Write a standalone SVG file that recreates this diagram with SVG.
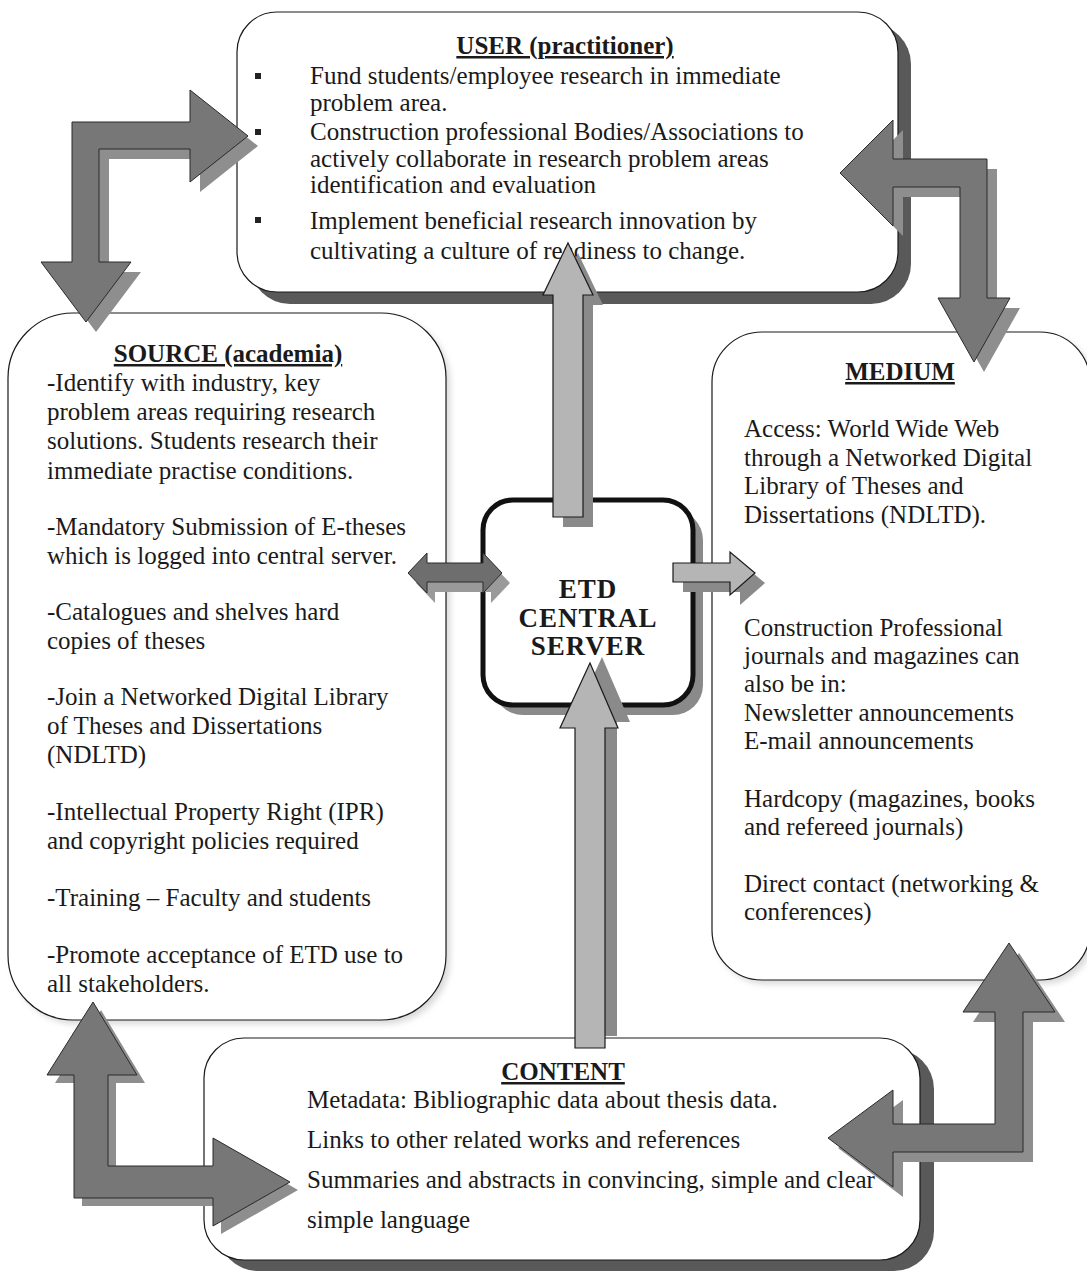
<svg xmlns="http://www.w3.org/2000/svg" width="1087" height="1272" viewBox="0 0 1087 1272">
  <defs>
    <style>
      .box { fill: #ffffff; stroke: #1a1a1a; stroke-width: 1.2; }
      .boxshadow { fill: #595959; }
      .softshadow { fill: #d8d8d8; filter: url(#soft); }
      .t { font-family: "Liberation Serif", "Times New Roman", serif; font-size: 25px; fill: #1a1a1a; }
      .title { font-family: "Liberation Serif", "Times New Roman", serif; font-size: 25px; font-weight: bold; fill: #1a1a1a; text-decoration: underline; }
      .srv { font-family: "Liberation Serif", "Times New Roman", serif; font-size: 27px; font-weight: bold; fill: #1a1a1a; letter-spacing: 1px; }
      .bent { fill: #777777; stroke: #2a2a2a; stroke-width: 1; }
      .bentshadow { fill: #8e8e8e; }
      .light { fill: #b5b5b5; stroke: #1a1a1a; stroke-width: 1.2; }
      .lightshadow { fill: #8a8a8a; }
      .dark { fill: #6e6e6e; stroke: #2a2a2a; stroke-width: 1; }
      .darkshadow { fill: #9a9a9a; }
    </style>
    <filter id="soft" x="-5%" y="-5%" width="110%" height="110%">
      <feGaussianBlur stdDeviation="3"/>
    </filter>
  </defs>
  <rect width="1087" height="1272" fill="#ffffff"/>

  <!-- USER box -->
  <g id="user">
    <rect class="boxshadow" x="250" y="24" width="661" height="280" rx="40"/>
    <rect class="box" x="237" y="12" width="661" height="280" rx="40"/>
    <text class="title" x="565" y="54" text-anchor="middle">USER (practitioner)</text>
    <rect x="255" y="73" width="6" height="6" fill="#222"/>
    <text class="t" x="310" y="84">Fund students/employee research in immediate</text>
    <text class="t" x="310" y="111">problem area.</text>
    <rect x="255" y="129" width="6" height="6" fill="#222"/>
    <text class="t" x="310" y="140">Construction professional Bodies/Associations to</text>
    <text class="t" x="310" y="167">actively collaborate in research problem areas</text>
    <text class="t" x="310" y="193">identification and evaluation</text>
    <rect x="255" y="217" width="6" height="6" fill="#222"/>
    <text class="t" x="310" y="229">Implement beneficial research innovation by</text>
    <text class="t" x="310" y="259">cultivating a culture of readiness to change.</text>
  </g>

  <!-- SOURCE box -->
  <g id="source">
    <rect class="softshadow" x="12" y="317" width="438" height="707" rx="65"/>
    <rect class="box" x="8" y="313" width="438" height="707" rx="65"/>
    <text class="title" x="228" y="362" text-anchor="middle">SOURCE (academia)</text>
    <text class="t" x="47" y="391">-Identify with industry, key</text>
    <text class="t" x="47" y="420">problem areas requiring research</text>
    <text class="t" x="47" y="449">solutions. Students research their</text>
    <text class="t" x="47" y="479">immediate practise conditions.</text>
    <text class="t" x="47" y="535">-Mandatory Submission of E-theses</text>
    <text class="t" x="47" y="564">which is logged into central server.</text>
    <text class="t" x="47" y="620">-Catalogues and shelves hard</text>
    <text class="t" x="47" y="649">copies of theses</text>
    <text class="t" x="47" y="705">-Join a Networked Digital Library</text>
    <text class="t" x="47" y="734">of Theses and Dissertations</text>
    <text class="t" x="47" y="763">(NDLTD)</text>
    <text class="t" x="47" y="820">-Intellectual Property Right (IPR)</text>
    <text class="t" x="47" y="849">and copyright policies required</text>
    <text class="t" x="47" y="906">-Training – Faculty and students</text>
    <text class="t" x="47" y="963">-Promote acceptance of ETD use to</text>
    <text class="t" x="47" y="992">all stakeholders.</text>
  </g>

  <!-- MEDIUM box -->
  <g id="medium">
    <rect class="softshadow" x="716" y="336" width="378" height="648" rx="50"/>
    <rect class="box" x="712" y="332" width="378" height="648" rx="50"/>
    <text class="title" x="900" y="380" text-anchor="middle">MEDIUM</text>
    <text class="t" x="744" y="437">Access: World Wide Web</text>
    <text class="t" x="744" y="466">through a Networked Digital</text>
    <text class="t" x="744" y="494">Library of Theses and</text>
    <text class="t" x="744" y="523">Dissertations (NDLTD).</text>
    <text class="t" x="744" y="636">Construction Professional</text>
    <text class="t" x="744" y="664">journals and magazines can</text>
    <text class="t" x="744" y="692">also be in:</text>
    <text class="t" x="744" y="721">Newsletter announcements</text>
    <text class="t" x="744" y="749">E-mail announcements</text>
    <text class="t" x="744" y="807">Hardcopy (magazines, books</text>
    <text class="t" x="744" y="835">and refereed journals)</text>
    <text class="t" x="744" y="892">Direct contact (networking &amp;</text>
    <text class="t" x="744" y="920">conferences)</text>
  </g>

  <!-- CONTENT box -->
  <g id="content">
    <rect class="boxshadow" x="218" y="1049" width="716" height="222" rx="40"/>
    <rect class="box" x="204" y="1038" width="716" height="222" rx="40"/>
    <text class="title" x="563" y="1080" text-anchor="middle">CONTENT</text>
    <text class="t" x="307" y="1108">Metadata: Bibliographic data about thesis data.</text>
    <text class="t" x="307" y="1148">Links to other related works and references</text>
    <text class="t" x="307" y="1188">Summaries and abstracts in convincing, simple and clear</text>
    <text class="t" x="307" y="1228">simple language</text>
  </g>

  <!-- ETD central server -->
  <g id="server">
    <rect x="493" y="510" width="210" height="205" rx="30" fill="#8a8a8a"/>
    <rect x="483" y="500" width="210" height="205" rx="30" fill="#ffffff" stroke="#111" stroke-width="5"/>
    <text class="srv" x="588" y="598" text-anchor="middle">ETD</text>
    <text class="srv" x="588" y="627" text-anchor="middle">CENTRAL</text>
    <text class="srv" x="588" y="655" text-anchor="middle">SERVER</text>
  </g>

  <!-- connectors -->
  <g id="connectors">
    <!-- user <-> source (top left) -->
    <polygon class="bentshadow" transform="translate(10,10)" points="72,122 190,122 190,90 248,136 190,182 190,149 99,149 99,262 131,262 86,322 41,262 72,262"/>
    <polygon class="bent" points="72,122 190,122 190,90 248,136 190,182 190,149 99,149 99,262 131,262 86,322 41,262 72,262"/>

    <!-- user <-> medium (top right) -->
    <polygon class="bentshadow" transform="translate(10,10)" points="987,159 987,298 1010,298 974,362 938,298 960,298 960,187 893,187 893,226 840,173 893,120 893,159"/>
    <polygon class="bent" points="987,159 987,298 1010,298 974,362 938,298 960,298 960,187 893,187 893,226 840,173 893,120 893,159"/>

    <!-- source <-> content (bottom left) -->
    <polygon class="bentshadow" transform="translate(8,8)" points="74,1198 74,1075 47,1075 93,1002 137,1075 108,1075 108,1166 213,1166 213,1138 290,1182 213,1226 213,1198"/>
    <polygon class="bent" points="74,1198 74,1075 47,1075 93,1002 137,1075 108,1075 108,1166 213,1166 213,1138 290,1182 213,1226 213,1198"/>

    <!-- medium <-> content (bottom right) -->
    <polygon class="bentshadow" transform="translate(10,10)" points="1023,1152 1023,1012 1055,1012 1009,943 963,1012 995,1012 995,1124 893,1124 893,1090 828,1138 893,1187 893,1152"/>
    <polygon class="bent" points="1023,1152 1023,1012 1055,1012 1009,943 963,1012 995,1012 995,1124 893,1124 893,1090 828,1138 893,1187 893,1152"/>

    <!-- server -> user -->
    <polygon class="lightshadow" transform="translate(10,10)" points="553,517 553,295 543,295 568,243 593,295 583,295 583,517"/>
    <polygon class="light" points="553,517 553,295 543,295 568,243 593,295 583,295 583,517"/>

    <!-- content -> server -->
    <polygon class="lightshadow" points="587,1036 587,722 572,722 602,657 630,722 617,722 617,1036"/>
    <polygon class="light" points="575,1048 575,728 560,728 590,663 618,728 605,728 605,1048"/>

    <!-- source <-> server -->
    <polygon class="darkshadow" transform="translate(8,10)" points="408,573 427,553 427,563 483,563 483,553 502,573 483,593 483,582 427,582 427,593"/>
    <polygon class="dark" points="408,573 427,553 427,563 483,563 483,553 502,573 483,593 483,582 427,582 427,593"/>

    <!-- server -> medium -->
    <polygon class="lightshadow" transform="translate(10,10)" points="673,563 730,563 730,552 755,573 730,595 730,582 673,582"/>
    <polygon class="light" points="673,563 730,563 730,552 755,573 730,595 730,582 673,582"/>
  </g>
</svg>
